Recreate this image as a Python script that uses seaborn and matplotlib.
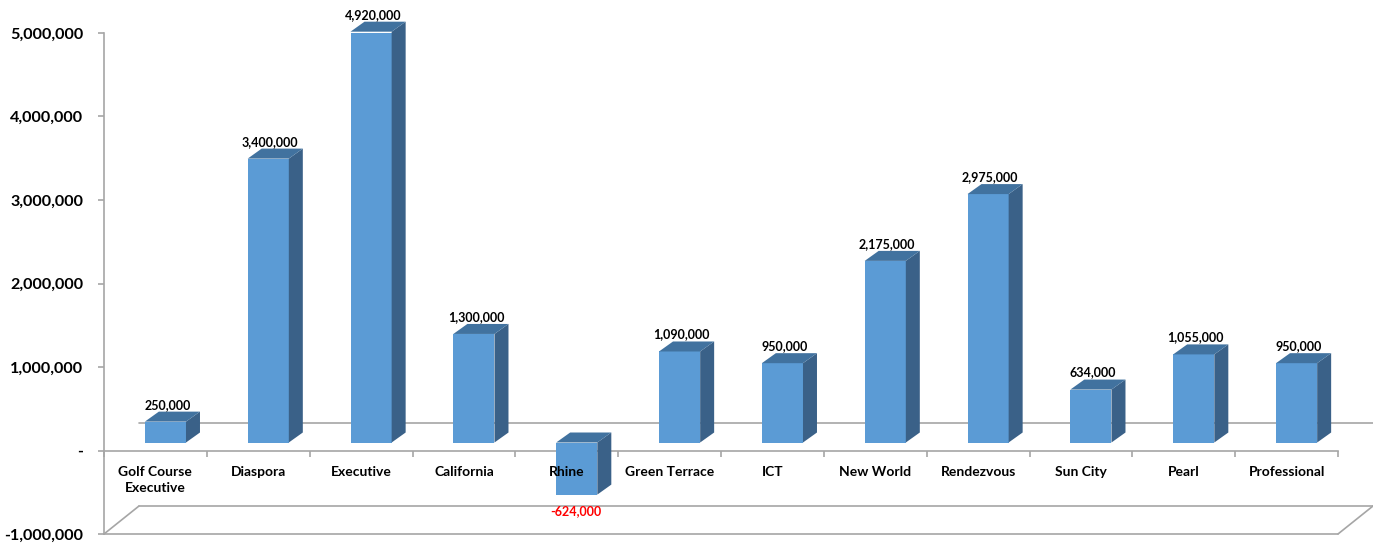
import matplotlib
matplotlib.use("Agg")
import matplotlib.pyplot as plt
import matplotlib.transforms as mtransforms
from matplotlib.patches import Polygon
from matplotlib.lines import Line2D
import seaborn as sns
import pandas as pd

# ---------------- data ----------------
categories = ["Golf Course\nExecutive", "Diaspora", "Executive", "California", "Rhine",
              "Green Terrace", "ICT", "New World", "Rendezvous", "Sun City", "Pearl",
              "Professional"]
values = [250000, 3400000, 4920000, 1300000, -624000, 1090000, 950000, 2175000,
          2975000, 634000, 1055000, 950000]
y_ticks = [-1000000, 0, 1000000, 2000000, 3000000, 4000000, 5000000]
y_tick_labels = ["-1,000,000", "-", "1,000,000", "2,000,000", "3,000,000",
                 "4,000,000", "5,000,000"]

# ---------------- style ----------------
sns.set_style("white")
plt.rcParams["font.family"] = ["Lato", "DejaVu Sans"]

FRONT = "#5B9BD5"
TOP = "#41729F"
SIDE = "#3A6188"
GRID = "#A6A6A6"

W, H, DPI = 1373, 548, 100
fig = plt.figure(figsize=(W / DPI, H / DPI), dpi=DPI)
ax = fig.add_axes([104 / W, (H - 534) / H, (1338 - 104) / W, (534 - 33) / H])

df = pd.DataFrame({"category": categories, "value": values})
sns.barplot(data=df, x="category", y="value", color=FRONT, saturation=1,
            width=0.4, ax=ax, zorder=3, errorbar=None)

ax.set_xlim(-0.5, len(categories) - 0.5)
ax.set_ylim(min(y_ticks), max(y_ticks))
ax.set_xlabel("")
ax.set_ylabel("")

# spines
for s in ["top", "right"]:
    ax.spines[s].set_visible(False)
ax.spines["left"].set_color(GRID)
ax.spines["left"].set_linewidth(1.2)
ax.spines["bottom"].set_position(("data", 0))
ax.spines["bottom"].set_color(GRID)
ax.spines["bottom"].set_linewidth(1.2)
ax.spines["bottom"].set_zorder(1)

# y ticks
ax.set_yticks(y_ticks)
ax.set_yticklabels(y_tick_labels, fontsize=11.6, fontweight="bold", color="black")
ax.tick_params(axis="y", direction="out", length=4, width=1.2, color=GRID, pad=11, left=True)

# x ticks at category boundaries on zero line
bounds = [i - 0.5 for i in range(len(categories) + 1)]
ax.set_xticks(bounds)
ax.set_xticklabels([""] * len(bounds))
ax.tick_params(axis="x", direction="out", length=4, width=1.2, color=GRID, bottom=True)

# 3D geometry (pixels)
FX, FY = 10, 8      # bar front face offset from axis plane
BDX, BDY = 14, 10   # bar depth
FLX, FLY = 35, 28   # floor depth

ident = mtransforms.IdentityTransform()
front_tr = mtransforms.offset_copy(ax.transData, fig=fig, x=FX, y=FY, units="dots")


def disp(x, y):
    return ax.transData.transform((x, y))


# floor lines
x_lo, x_hi = ax.get_xlim()
for yv in [0, min(y_ticks)]:
    p0 = disp(x_lo, yv)
    p1 = disp(x_hi, yv)
    ax.add_line(Line2D([p0[0] + FLX, p1[0] + FLX], [p0[1] + FLY, p1[1] + FLY],
                       transform=ident, color=GRID, lw=1.2, zorder=1, clip_on=False))
pb0 = disp(x_lo, min(y_ticks))
pb1 = disp(x_hi, min(y_ticks))
ax.add_line(Line2D([pb0[0], pb1[0]], [pb0[1], pb1[1]], transform=ident, color=GRID,
                   lw=1.2, zorder=1, clip_on=False))
for p in (pb0, pb1):
    ax.add_line(Line2D([p[0], p[0] + FLX], [p[1], p[1] + FLY], transform=ident,
                       color=GRID, lw=1.2, zorder=1, clip_on=False))

# bars: front faces shifted, side and top faces added
for rect in list(ax.patches):
    rect.set_transform(front_tr)
    rect.set_edgecolor("none")
    x0 = rect.get_x()
    x1 = x0 + rect.get_width()
    y0 = rect.get_y()
    y1 = y0 + rect.get_height()
    ylo, yhi = min(y0, y1), max(y0, y1)
    a = disp(x0, yhi) + (FX, FY)
    b = disp(x1, yhi) + (FX, FY)
    c = disp(x1, ylo) + (FX, FY)
    side = [c, b, b + (BDX, BDY), c + (BDX, BDY)]
    top = [a, b, b + (BDX, BDY), a + (BDX, BDY)]
    ax.add_patch(Polygon(side, closed=True, transform=ident, facecolor=SIDE,
                         edgecolor="none", zorder=3, clip_on=False))
    ax.add_patch(Polygon(top, closed=True, transform=ident, facecolor=TOP,
                         edgecolor="none", zorder=3, clip_on=False))

# value labels
for i, v in enumerate(values):
    txt = f"{v:,.0f}"
    if v >= 0:
        ax.annotate(txt, xy=(i, v), xytext=(12, 25), textcoords="offset pixels",
                    ha="center", va="center", fontsize=9, fontweight="bold",
                    color="black", zorder=10, annotation_clip=False)
    else:
        ax.annotate(txt, xy=(i, v), xytext=(9, -8), textcoords="offset pixels",
                    ha="center", va="center", fontsize=9, fontweight="bold",
                    color="#FF0000", zorder=10, annotation_clip=False)

# category labels
for i, c in enumerate(categories):
    ax.annotate(c, xy=(i, 0), xytext=(0, -15), textcoords="offset pixels",
                ha="center", va="top", fontsize=10, fontweight="bold", color="black",
                multialignment="center", linespacing=1.45, zorder=10,
                annotation_clip=False)

fig.savefig("out.png", dpi=DPI)
